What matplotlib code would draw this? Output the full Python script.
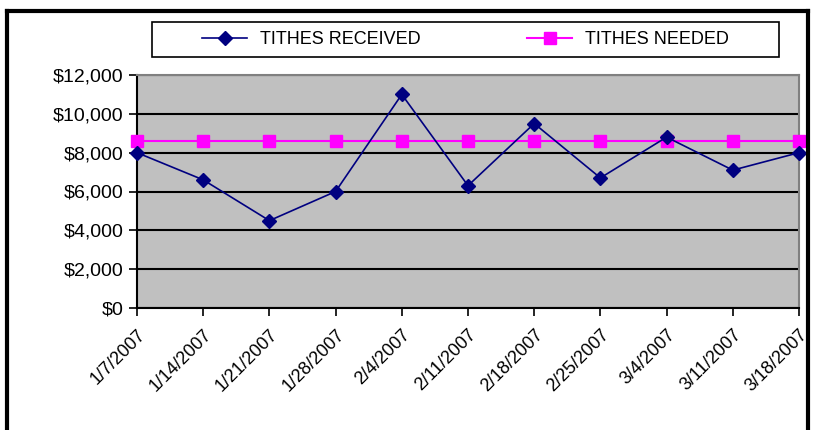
import matplotlib
matplotlib.use("Agg")
import matplotlib.pyplot as plt
from matplotlib.patches import Rectangle
from matplotlib.lines import Line2D
from matplotlib.ticker import FuncFormatter

dates = ["1/7/2007", "1/14/2007", "1/21/2007", "1/28/2007", "2/4/2007", "2/11/2007",
         "2/18/2007", "2/25/2007", "3/4/2007", "3/11/2007", "3/18/2007"]
tithes_received = [8000, 6600, 4500, 6000, 11000, 6300, 9500, 6700, 8800, 7100, 8000]
tithes_needed = [8600] * len(dates)

plt.rcParams['font.family'] = ['Liberation Sans', 'DejaVu Sans']

W, H = 814, 430
fig = plt.figure(figsize=(W / 100, H / 100), dpi=100)
ax = fig.add_axes([137 / W, 1 - 308 / H, (799 - 137) / W, (308 - 75) / H])
ax.set_facecolor('#C0C0C0')

x = list(range(len(dates)))
ax.plot(x, tithes_received, color='#000080', lw=1.2, marker='D', markersize=7,
        markerfacecolor='#000080', markeredgecolor='#000080', zorder=4, clip_on=False)
ax.plot(x, tithes_needed, color='#FF00FF', lw=1.5, marker='s', markersize=8,
        markerfacecolor='#FF00FF', markeredgecolor='#FF00FF', zorder=3, clip_on=False)

ax.set_xlim(0, len(dates) - 1)
ax.set_ylim(0, 12000)
ax.set_yticks(range(0, 12001, 2000))
ax.yaxis.set_major_formatter(FuncFormatter(lambda v, p: f"${int(v):,}"))
ax.set_xticks(x)
ax.set_xticklabels(dates, rotation=45, ha='right', rotation_mode='anchor')
ax.grid(axis='y', color='black', lw=1.5, zorder=1)
ax.set_axisbelow(True)
ax.tick_params(axis='both', direction='out', length=6, width=1.2, color='black',
               labelsize=13, pad=4)
ax.tick_params(axis='y', labelsize=14)
ax.tick_params(axis='x', pad=7)
for side in ['top', 'right']:
    ax.spines[side].set_color('#808080')
    ax.spines[side].set_linewidth(1.5)
for side in ['left', 'bottom']:
    ax.spines[side].set_color('black')
    ax.spines[side].set_linewidth(1.5)

# legend
handles = [Line2D([], [], color='#000080', lw=1.2, marker='D', markersize=7),
           Line2D([], [], color='#FF00FF', lw=1.5, marker='s', markersize=8)]
leg = fig.legend(handles, ["TITHES RECEIVED", "TITHES NEEDED"], ncol=2, frameon=False,
                 loc='center', bbox_to_anchor=(465.5 / W, 1 - 39.5 / H),
                 fontsize=13, handlelength=2.5, handletextpad=0.7, columnspacing=5.9)
fig.patches.append(Rectangle((152 / W, 1 - 57 / H), (779 - 152) / W, 35 / H,
                             transform=fig.transFigure, fill=False, edgecolor='black',
                             lw=1.2))

# outer frame
fig.add_artist(Line2D([6.5 / W, 6.5 / W], [0, 1 - 10.5 / H], transform=fig.transFigure,
                      color='black', lw=3))
fig.add_artist(Line2D([6.5 / W, 808 / W], [1 - 10.5 / H, 1 - 10.5 / H],
                      transform=fig.transFigure, color='black', lw=3))
fig.add_artist(Line2D([808 / W, 808 / W], [0, 1 - 10.5 / H], transform=fig.transFigure,
                      color='black', lw=3))

fig.savefig("out.png", dpi=100)
